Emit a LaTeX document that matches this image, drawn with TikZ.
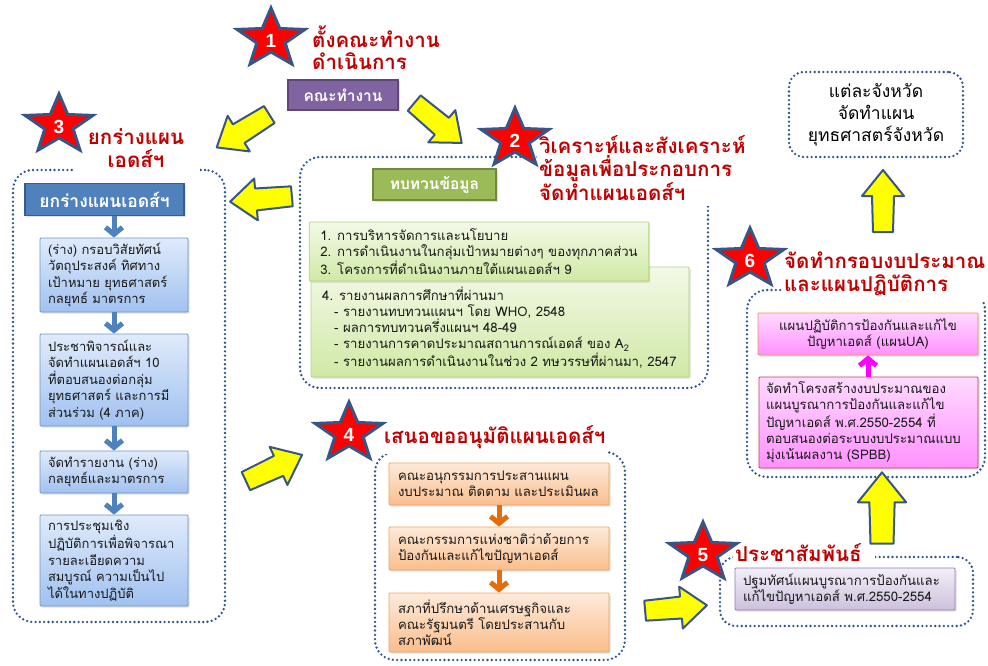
\documentclass[tikz,border=0pt]{standalone}
\usepackage{fontspec}
\usetikzlibrary{arrows.meta,shadows}
\newfontfamily\thai[Script=Thai]{Loma}
\newfontfamily\numfont{Liberation Sans}

\definecolor{dotblue}{RGB}{46,84,140}
\definecolor{tred}{RGB}{192,0,0}
\definecolor{starred}{RGB}{255,0,0}
\definecolor{starline}{RGB}{55,85,135}
\definecolor{yfill}{RGB}{255,255,0}
\definecolor{purp}{RGB}{128,100,162}
\definecolor{purpd}{RGB}{94,72,122}
\definecolor{hblue}{RGB}{79,129,189}
\definecolor{hblued}{RGB}{56,93,138}
\definecolor{hgreen}{RGB}{155,187,89}
\definecolor{hgreend}{RGB}{113,137,63}
\definecolor{lbtop}{RGB}{224,235,251}
\definecolor{lbbot}{RGB}{160,193,240}
\definecolor{lbline}{RGB}{110,150,205}
\definecolor{ortop}{RGB}{253,234,218}
\definecolor{orbot}{RGB}{250,190,140}
\definecolor{orline}{RGB}{240,165,100}
\definecolor{grtop}{RGB}{243,249,232}
\definecolor{grbot}{RGB}{208,233,165}
\definecolor{grline}{RGB}{180,212,125}
\definecolor{putop}{RGB}{243,239,249}
\definecolor{pubot}{RGB}{204,192,220}
\definecolor{puline}{RGB}{150,125,180}
\definecolor{pktop}{RGB}{255,218,255}
\definecolor{pkbot}{RGB}{255,145,255}
\definecolor{pkline}{RGB}{240,150,80}
\definecolor{pklineb}{RGB}{200,60,90}
\definecolor{oarrow}{RGB}{228,108,10}
\definecolor{marrow}{RGB}{255,0,255}
\definecolor{txt}{RGB}{25,25,25}

\newcommand\boxfont{\thai\fontsize{13}{16.5}\selectfont}
\newcommand\smallfont{\thai\fontsize{13.2}{16}\selectfont}
\newcommand\ttlfont{\thai\bfseries\fontsize{20.5}{22.5}\selectfont}
\newcommand\hdrfont{\thai\bfseries\fontsize{15.5}{18}\selectfont}
\newcommand\trfont{\thai\fontsize{17.5}{22}\selectfont}

\tikzset{
  frame/.style={draw=dotblue, line width=2.6pt, dash pattern=on 0pt off 4.3pt,
    line cap=round, rounded corners=20pt},
  ttl/.style={font=\ttlfont, text=tred, inner sep=2pt},
  hdr/.style={font=\hdrfont, text=white, line width=1.2pt, inner sep=0pt,
    drop shadow={opacity=0.25, shadow xshift=1.5pt, shadow yshift=-1.5pt}},
  box/.style={line width=0.8pt, rounded corners=1pt, align=left, text=txt,
    drop shadow={opacity=0.25, shadow xshift=1.5pt, shadow yshift=-1.5pt}},
  bluebox/.style={box, font=\boxfont, top color=lbtop, bottom color=lbbot,
    draw=lbline, inner xsep=8pt},
  orbox/.style={box, font=\smallfont, top color=ortop, bottom color=orbot,
    draw=orline, inner xsep=9pt},
  grbox/.style={box, font=\smallfont, top color=grtop, bottom color=grbot,
    draw=grline, inner xsep=11pt},
  pubox/.style={box, font=\smallfont, top color=putop, bottom color=pubot,
    draw=puline, inner xsep=8pt},
  pkbox/.style={box, font=\smallfont, top color=pktop, bottom color=pkbot,
    draw=pkline, inner xsep=7pt},
  flow/.style={line width=5pt, -{Straight Barb[length=7pt,width=17pt]}},
  digit/.style={font=\numfont\bfseries\fontsize{19}{19}\selectfont, text=white,
    inner sep=0pt},
  fatarrow/.pic={
    \draw[fill=yfill, draw=starline, line width=2pt, line join=round]
      (-31,-10) -- (5,-11) -- (5,-21) -- (31,0) -- (5,21) -- (5,11)
      -- (-31,10) -- cycle;},
  badge/.pic={
    \draw[fill=starred, draw=starline, line width=3pt]
      (-90:31) -- (-126:13) -- (-162:31) -- (-198:13) -- (-234:31)
      -- (-270:13) -- (-306:31) -- (-342:13) -- (-378:31) -- (-414:13) -- cycle;},
}

\begin{document}
\begin{tikzpicture}[x=1pt, y=-1pt]
\useasboundingbox[fill=white] (0,0) rectangle (988,666);

% dotted group frames
\node[frame, minimum width=212, minimum height=452] (c3) at (119,396) {};
\node[frame, minimum width=408, minimum height=231] (c2) at (504,272.5) {};
\node[frame, minimum width=250, minimum height=208] (c4) at (500,556) {};
\node[frame, minimum width=253, minimum height=69, rounded corners=16pt] (c5) at (846.5,591.5) {};
\node[frame, minimum width=238, minimum height=187] (c6) at (866,383.5) {};
\node[frame, minimum width=174, minimum height=85, rounded corners=15pt,
      font=\trfont, align=center] (tr) at (876,114.5)
      {แต่ละจังหวัด\\จัดทำแผน\\ยุทธศาสตร์จังหวัด};

% step titles
\node[ttl, align=left, anchor=west] (t1) at (310,47.5) {ตั้งคณะทำงาน\\ดำเนินการ};
\node[ttl, align=center, fill=white, minimum width=127, minimum height=56] (t3)
      at (136,148) {ยกร่างแผน\\เอดส์ฯ};
\node[ttl, align=left, anchor=west, fill=white, minimum height=76] (t2)
      at (537,168) {วิเคราะห์และสังเคราะห์\\ข้อมูลเพื่อประกอบการ\\จัดทำแผนเอดส์ฯ};
\node[ttl, anchor=west, fill=white, minimum height=34] (t4) at (382,437) {เสนอขออนุมัติแผนเอดส์ฯ};
\node[ttl, anchor=west, fill=white, minimum height=26, text width=138, align=left] (t5) at (733,553) {ประชาสัมพันธ์};
\node[ttl, align=left, anchor=west, fill=white, minimum height=55] (t6)
      at (782,274) {จัดทำกรอบงบประมาณ\\และแผนปฏิบัติการ};

% headers
\node[hdr, fill=purp, draw=purpd, minimum width=110, minimum height=30] (team) at (343,95) {คณะทำงาน};
\node[hdr, fill=hblue, draw=hblued, minimum width=159, minimum height=32,
      font=\thai\bfseries\fontsize{17.5}{18}\selectfont] (draft) at (104.5,199.5) {ยกร่างแผนเอดส์ฯ};
\node[hdr, fill=hgreen, draw=hgreend, minimum width=123, minimum height=31] (review) at (434.5,184.5) {ทบทวนข้อมูล};

% drafting steps
\node[bluebox, minimum width=148, minimum height=74, text width=132] (l1) at (114,275)
  {(ร่าง) กรอบวิสัยทัศน์\\วัตถุประสงค์ ทิศทาง\\เป้าหมาย ยุทธศาสตร์\\กลยุทธ์ มาตรการ};
\node[bluebox, minimum width=148, minimum height=92, text width=132] (l2) at (114,380)
  {ประชาพิจารณ์และ\\จัดทำแผนเอดส์ฯ 10\\ที่ตอบสนองต่อกลุ่ม\\ยุทธศาสตร์ และการมี\\ส่วนร่วม (4 ภาค)};
\node[bluebox, minimum width=148, minimum height=42, text width=132] (l3) at (114,472)
  {จัดทำรายงาน (ร่าง)\\กลยุทธ์และมาตรการ};
\node[bluebox, minimum width=148, minimum height=91, text width=132] (l4) at (114,560.5)
  {การประชุมเชิง\\ปฏิบัติการเพื่อพิจารณา\\รายละเอียดความ\\สมบูรณ์ ความเป็นไป\\ได้ในทางปฏิบัติ};

\draw[flow, hblue] (draft.south -| l1.north) -- (l1.north);
\draw[flow, hblue] (l1) -- (l2);
\draw[flow, hblue] (l2) -- (l3);
\draw[flow, hblue] (l3) -- (l4);

% data review
\node[grbox, minimum width=378, minimum height=110] (gb2) at (500,322) {};
\node[font=\smallfont, text=txt, align=left, anchor=base west, inner sep=0pt] (gb2t) at (322,366)
  {4. รายงานผลการศึกษาที่ผ่านมา\\
   \hspace*{12pt}- รายงานทบทวนแผนฯ โดย WHO, 2548\\
   \hspace*{12pt}- ผลการทบทวนครึ่งแผนฯ 48-49\\
   \hspace*{12pt}- รายงานการคาดประมาณสถานการณ์เอดส์ ของ A\textsubscript{2}\\
   \hspace*{12pt}- รายงานผลการดำเนินงานในช่วง 2 ทษวรรษที่ผ่านมา, 2547};
\node[grbox, minimum width=336, minimum height=59] (gb1) at (479,251.5)
  {1. การบริหารจัดการและนโยบาย\\2. การดำเนินงานในกลุ่มเป้าหมายต่างๆ ของทุกภาคส่วน\\3. โครงการที่ดำเนินงานภายใต้แผนเอดส์ฯ 9};

% approval chain
\node[orbox, minimum width=220, minimum height=42, text width=202] (o1) at (499,484)
  {คณะอนุกรรมการประสานแผน\\งบประมาณ ติดตาม และประเมินผล};
\node[orbox, minimum width=220, minimum height=43, text width=202] (o2) at (499,548.5)
  {คณะกรรมการแห่งชาติว่าด้วยการ\\ป้องกันและแก้ไขปัญหาเอดส์};
\node[orbox, minimum width=220, minimum height=59, text width=202] (o3) at (499,622.5)
  {สภาที่ปรึกษาด้านเศรษฐกิจและ\\คณะรัฐมนตรี โดยประสานกับ\\สภาพัฒน์};
\draw[flow, oarrow] (o1) -- (o2);
\draw[flow, oarrow] (o2) -- (o3);

% publicity
\node[pubox, minimum width=220, minimum height=42, text width=204] (pu) at (845,589)
  {ปฐมทัศน์แผนบูรณาการป้องกันและ\\แก้ไขปัญหาเอดส์ พ.ศ.2550-2554};

% budget and action plan
\node[pkbox, minimum width=220, minimum height=42, text width=206, align=center] (pk1) at (868,334)
  {แผนปฏิบัติการป้องกันและแก้ไข\\ปัญหาเอดส์ (แผนUA)};
\node[pkbox, draw=pklineb, minimum width=219, minimum height=91, text width=205] (pk2) at (868.5,422.5)
  {จัดทำโครงสร้างงบประมาณของ\\แผนบูรณาการป้องกันและแก้ไข\\ปัญหาเอดส์ พ.ศ.2550-2554 ที่\\ตอบสนองต่อระบบงบประมาณแบบ\\มุ่งเน้นผลงาน (SPBB)};
\draw[flow, marrow] (pk2.north -| pk1.south) -- (pk1.south);

% block arrows between stages
\pic[rotate=212] at (243,131) {fatarrow};
\pic[rotate=-40] at (438,123) {fatarrow};
\pic[rotate=185] at (261,199) {fatarrow};
\pic[rotate=25] at (274,468) {fatarrow};
\pic[rotate=5] at (676,608) {fatarrow};
\pic[rotate=90, scale=1.15] at (882,508) {fatarrow};
\pic[rotate=90] at (883,201) {fatarrow};

% numbered stars
\pic[xscale=1.15] at (271,39) {badge};
\pic[xscale=1.15] at (515,139) {badge};
\pic[xscale=1.15] at (59,125) {badge};
\pic[xscale=1.15] at (349,433) {badge};
\pic[xscale=1.15] at (703,553) {badge};
\pic[xscale=1.15] at (750,259) {badge};
\node[digit] (n1) at (271,41) {1};
\node[digit] (n2) at (515,141) {2};
\node[digit] (n3) at (59,127) {3};
\node[digit] (n4) at (349,435) {4};
\node[digit] (n5) at (703,555) {5};
\node[digit] (n6) at (750,261) {6};
\end{tikzpicture}
\end{document}
